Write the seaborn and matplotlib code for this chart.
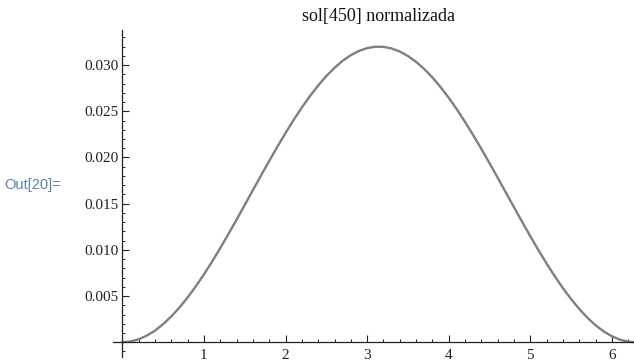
import matplotlib
matplotlib.use("Agg")
import matplotlib.pyplot as plt
import seaborn as sns
import pandas as pd
from matplotlib.ticker import MultipleLocator, FixedLocator

# values
x_vals = [0.0, 0.1, 0.2, 0.3, 0.4, 0.5, 0.6, 0.7, 0.8, 0.9, 1.0, 1.1, 1.2, 1.3, 1.4,
          1.5, 1.6, 1.7, 1.8, 1.9, 2.0, 2.1, 2.2, 2.3, 2.4, 2.5, 2.6, 2.7, 2.8, 2.9,
          3.0, 3.1, 3.2, 3.3, 3.4, 3.5, 3.6, 3.7, 3.8, 3.9, 4.0, 4.1, 4.2, 4.3, 4.4,
          4.5, 4.6, 4.7, 4.8, 4.9, 5.0, 5.1, 5.2, 5.3, 5.4, 5.5, 5.6, 5.7, 5.8, 5.9,
          6.0, 6.1, 6.2, 6.283]
y_vals = [0.0, 0.00008, 0.00032, 0.00072, 0.00126, 0.00196, 0.00280, 0.00376, 0.00485,
          0.00605, 0.00735, 0.00874, 0.01020, 0.01172, 0.01328, 0.01487, 0.01647,
          0.01806, 0.01964, 0.02117, 0.02266, 0.02408, 0.02542, 0.02666, 0.02780,
          0.02882, 0.02971, 0.03047, 0.03108, 0.03154, 0.03184, 0.03199, 0.03197,
          0.03180, 0.03147, 0.03098, 0.03035, 0.02957, 0.02866, 0.02761, 0.02646,
          0.02520, 0.02384, 0.02241, 0.02092, 0.01937, 0.01780, 0.01620, 0.01460,
          0.01302, 0.01146, 0.00995, 0.00850, 0.00713, 0.00584, 0.00466, 0.00359,
          0.00264, 0.00183, 0.00116, 0.00064, 0.00027, 0.00006, 0.0]
x_ticks = [1, 2, 3, 4, 5, 6]
y_ticks = [0.005, 0.010, 0.015, 0.020, 0.025, 0.030]
y_tick_labels = ["0.005", "0.010", "0.015", "0.020", "0.025", "0.030"]
title = "sol[450] normalizada"
out_label = "Out[20]="

df = pd.DataFrame({"x": x_vals, "y": y_vals})

sns.set_style("white")
plt.rcParams["font.family"] = ["Liberation Serif", "DejaVu Serif"]

W, H = 634, 362
fig = plt.figure(figsize=(W / 100, H / 100), dpi=100)
ax_l, ax_r = 113, 634
ax_t, ax_b = 30, 357
ax = fig.add_axes([ax_l / W, 1 - ax_b / H, (ax_r - ax_l) / W, (ax_b - ax_t) / H])

sns.lineplot(data=df, x="x", y="y", ax=ax, color="#7f7f7f", linewidth=1.7)

ax.set_xlim(-0.115, 6.27)
ax.set_ylim(-0.0016, 0.0338)

for s in ["top", "right"]:
    ax.spines[s].set_visible(False)
ax.spines["left"].set_position(("data", 0))
ax.spines["bottom"].set_position(("data", 0))
for s in ["left", "bottom"]:
    ax.spines[s].set_color("#222222")
    ax.spines[s].set_linewidth(0.9)

ax.xaxis.set_major_locator(FixedLocator(x_ticks))
ax.xaxis.set_minor_locator(MultipleLocator(0.2))
ax.yaxis.set_major_locator(FixedLocator(y_ticks))
ax.yaxis.set_minor_locator(MultipleLocator(0.001))
ax.set_yticklabels(y_tick_labels)
ax.set_xticklabels([str(t) for t in x_ticks])

ax.tick_params(axis="x", which="both", direction="in", bottom=True, colors="#222222",
               labelsize=11, pad=5)
ax.tick_params(axis="y", which="both", direction="in", left=True, colors="#222222",
               labelsize=11, pad=3)
ax.tick_params(which="major", length=5, width=0.8)
ax.tick_params(which="minor", length=2.5, width=0.7)

ax.set_xlabel("")
ax.set_ylabel("")
fig.text(379 / W, 1 - 16 / H, title, fontsize=13, color="#111111",
         ha="center", va="center")

fig.text(4 / W, 1 - 185 / H, out_label, fontsize=10.5, color="#5b82ad",
         family=["Liberation Sans", "DejaVu Sans"], va="center", ha="left")

fig.savefig("out.png", dpi=100)
